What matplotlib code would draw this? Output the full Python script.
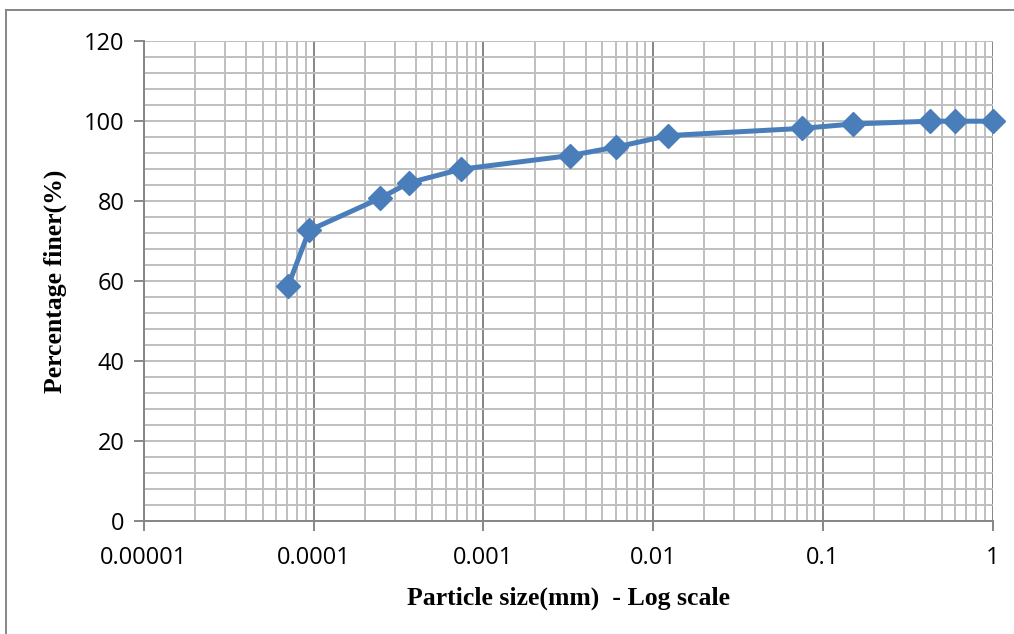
import numpy as np
import matplotlib
matplotlib.use('Agg')
import matplotlib.pyplot as plt
from matplotlib.ticker import LogLocator, FixedLocator, NullFormatter, FixedFormatter
from matplotlib.lines import Line2D

# Гранулометрический состав
particle_size = [7.05e-5, 9.4e-5, 2.45e-4, 3.64e-4, 7.4e-4, 3.23e-3, 6.0e-3,
                 0.0122, 0.075, 0.15, 0.425, 0.6, 1.0]
percent_finer = [58.7, 72.7, 80.7, 84.6, 88.0, 91.4, 93.5, 96.4, 98.2, 99.3, 100.0, 100.0, 100.0]

x_ticks = [1e-5, 1e-4, 1e-3, 1e-2, 1e-1, 1]
x_tick_labels = ['0.00001', '0.0001', '0.001', '0.01', '0.1', '1']
y_ticks = [0, 20, 40, 60, 80, 100, 120]

LINE_COLOR = '#4a7ebb'
MAJOR_GRID = '#868686'
MINOR_GRID = '#bfbfbf'
TICK_FONT = ['Open Sans', 'DejaVu Sans']
LABEL_FONT = ['Liberation Serif', 'DejaVu Serif']

fig = plt.figure(figsize=(10.14, 6.34), dpi=100)
ax = fig.add_axes([0.142, 0.178, 0.837, 0.757])

ax.set_xscale('log')
ax.set_xlim(1e-5, 1)
ax.set_ylim(0, 120)

ax.xaxis.set_major_locator(FixedLocator(x_ticks))
ax.xaxis.set_major_formatter(FixedFormatter(x_tick_labels))
ax.xaxis.set_minor_locator(LogLocator(base=10, subs=np.arange(2, 10), numticks=50))
ax.xaxis.set_minor_formatter(NullFormatter())
ax.yaxis.set_major_locator(FixedLocator(y_ticks))
ax.yaxis.set_minor_locator(FixedLocator(np.arange(0, 121, 4)))

# сетка: основная темнее, вспомогательная светлее
ax.grid(which='minor', color=MINOR_GRID, linewidth=1.4)
ax.grid(which='major', axis='x', color=MAJOR_GRID, linewidth=1.4)
ax.grid(which='major', axis='y', color=MINOR_GRID, linewidth=1.4)
ax.set_axisbelow(True)

ax.plot(particle_size, percent_finer, color=LINE_COLOR, linewidth=3.6,
        marker='D', markersize=12, markerfacecolor=LINE_COLOR,
        markeredgecolor=LINE_COLOR, clip_on=False, zorder=3)

for side in ['top', 'right']:
    ax.spines[side].set_visible(False)
for side in ['left', 'bottom']:
    ax.spines[side].set_color(MAJOR_GRID)
    ax.spines[side].set_linewidth(1.4)

ax.tick_params(which='major', direction='out', length=7, width=1.4, color=MAJOR_GRID,
               labelsize=17, pad=11)
ax.tick_params(which='minor', length=0)
ax.tick_params(axis='y', pad=7)
for lbl in ax.get_xticklabels() + ax.get_yticklabels():
    lbl.set_family(TICK_FONT)

ax.set_xlabel('Particle size(mm)  - Log scale', fontsize=18.5, fontweight='bold',
              family=LABEL_FONT, labelpad=12)
ax.set_ylabel('Percentage finer(%)', fontsize=18.5, fontweight='bold',
              family=LABEL_FONT, labelpad=12)

# рамка вокруг области диаграммы
fig.add_artist(Line2D([0.006, 0.006], [0.0, 0.984], transform=fig.transFigure,
                      color=MAJOR_GRID, linewidth=1.4))
fig.add_artist(Line2D([0.006, 1.0], [0.984, 0.984], transform=fig.transFigure,
                      color=MAJOR_GRID, linewidth=1.4))

fig.savefig('out.png', dpi=100)
